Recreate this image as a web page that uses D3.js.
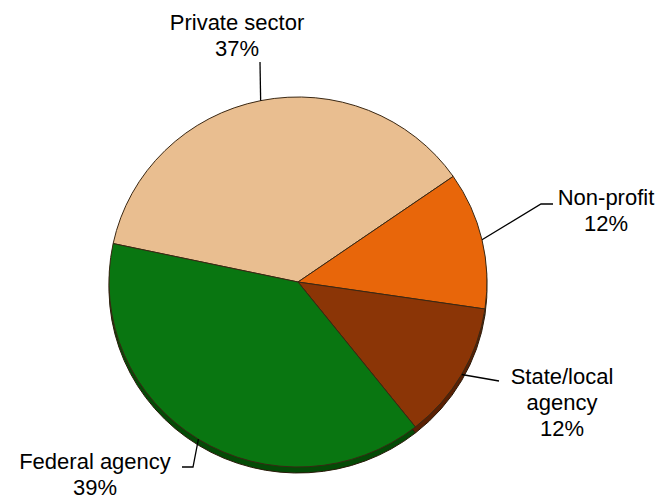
<!DOCTYPE html>
<html>
<head>
<meta charset="utf-8">
<title>Pie chart</title>
<script src="https://cdn.jsdelivr.net/npm/d3@7"></script>
<style>
  body { margin: 0; background: #fff; }
  text { font-family: "Liberation Sans", Arial, sans-serif; font-size: 22px; fill: #000; }
</style>
</head>
<body>
<div id="chart"></div>
<script>
// data
var categories = ["Private sector", "Non-profit", "State/local agency", "Federal agency"];
var shares = [37, 12, 12, 39];
var labelLines = [["Private sector"], ["Non-profit"], ["State/local", "agency"], ["Federal agency"]];

var w = 667, h = 501;
var cx = 298, cy = 282, rx = 189, ry = 185, depth = 6;
var topColors = ["#E9BE90", "#E8660A", "#8B3506", "#097611"];
var sideColors = ["#B88F63", "#A04504", "#5A2003", "#044A06"];

// leader elbows (after the rim point) and label anchors
var callouts = [
  { pts: [[260, 62]], x: 237, y: 30 },
  { pts: [[541, 204], [553, 204]], x: 606, y: 205 },
  { pts: [[499, 381]], x: 562, y: 384 },
  { pts: [[193, 467], [182, 467]], x: 95, y: 469 }
];
var lineGap = 26;

var svg = d3.select("#chart").append("svg")
  .attr("width", w)
  .attr("height", h);

var start = -78 * Math.PI / 180;
var pie = d3.pie().sort(null).value(function(d) { return d; })
  .startAngle(start).endAngle(start + 2 * Math.PI);
var arcs = pie(shares);
var arc = d3.arc().innerRadius(0).outerRadius(rx);

// 3d edge underneath
var sideFace = svg.append("g")
  .attr("transform", "translate(" + cx + "," + (cy + depth) + ") scale(1," + (ry / rx) + ")");
sideFace.selectAll("path").data(arcs).enter().append("path")
  .attr("d", arc)
  .attr("fill", function(d, i) { return sideColors[i]; })
  .attr("stroke", "#2a1a0a")
  .attr("stroke-width", 1)
  .attr("vector-effect", "non-scaling-stroke");

// top face
var topFace = svg.append("g")
  .attr("transform", "translate(" + cx + "," + cy + ") scale(1," + (ry / rx) + ")");
topFace.selectAll("path").data(arcs).enter().append("path")
  .attr("d", arc)
  .attr("fill", function(d, i) { return topColors[i]; })
  .attr("stroke", "#3a2814")
  .attr("stroke-width", 1)
  .attr("vector-effect", "non-scaling-stroke");

// leader lines from the middle of each slice's rim
var line = d3.line();
arcs.forEach(function(d, i) {
  var a = (d.startAngle + d.endAngle) / 2;
  var rim = [cx + rx * Math.sin(a), cy - ry * Math.cos(a)];
  var pts = [rim].concat(callouts[i].pts);
  svg.append("path")
    .attr("d", line(pts))
    .attr("fill", "none")
    .attr("stroke", "#000")
    .attr("stroke-width", 1.3);

  var lines = labelLines[i].concat([shares[i] + "%"]);
  var t = svg.append("text")
    .attr("text-anchor", "middle")
    .attr("x", callouts[i].x)
    .attr("y", callouts[i].y);
  t.selectAll("tspan").data(lines).enter().append("tspan")
    .attr("x", callouts[i].x)
    .attr("y", function(s, j) { return callouts[i].y + j * lineGap; })
    .text(function(s) { return s; });
});
</script>
</body>
</html>
